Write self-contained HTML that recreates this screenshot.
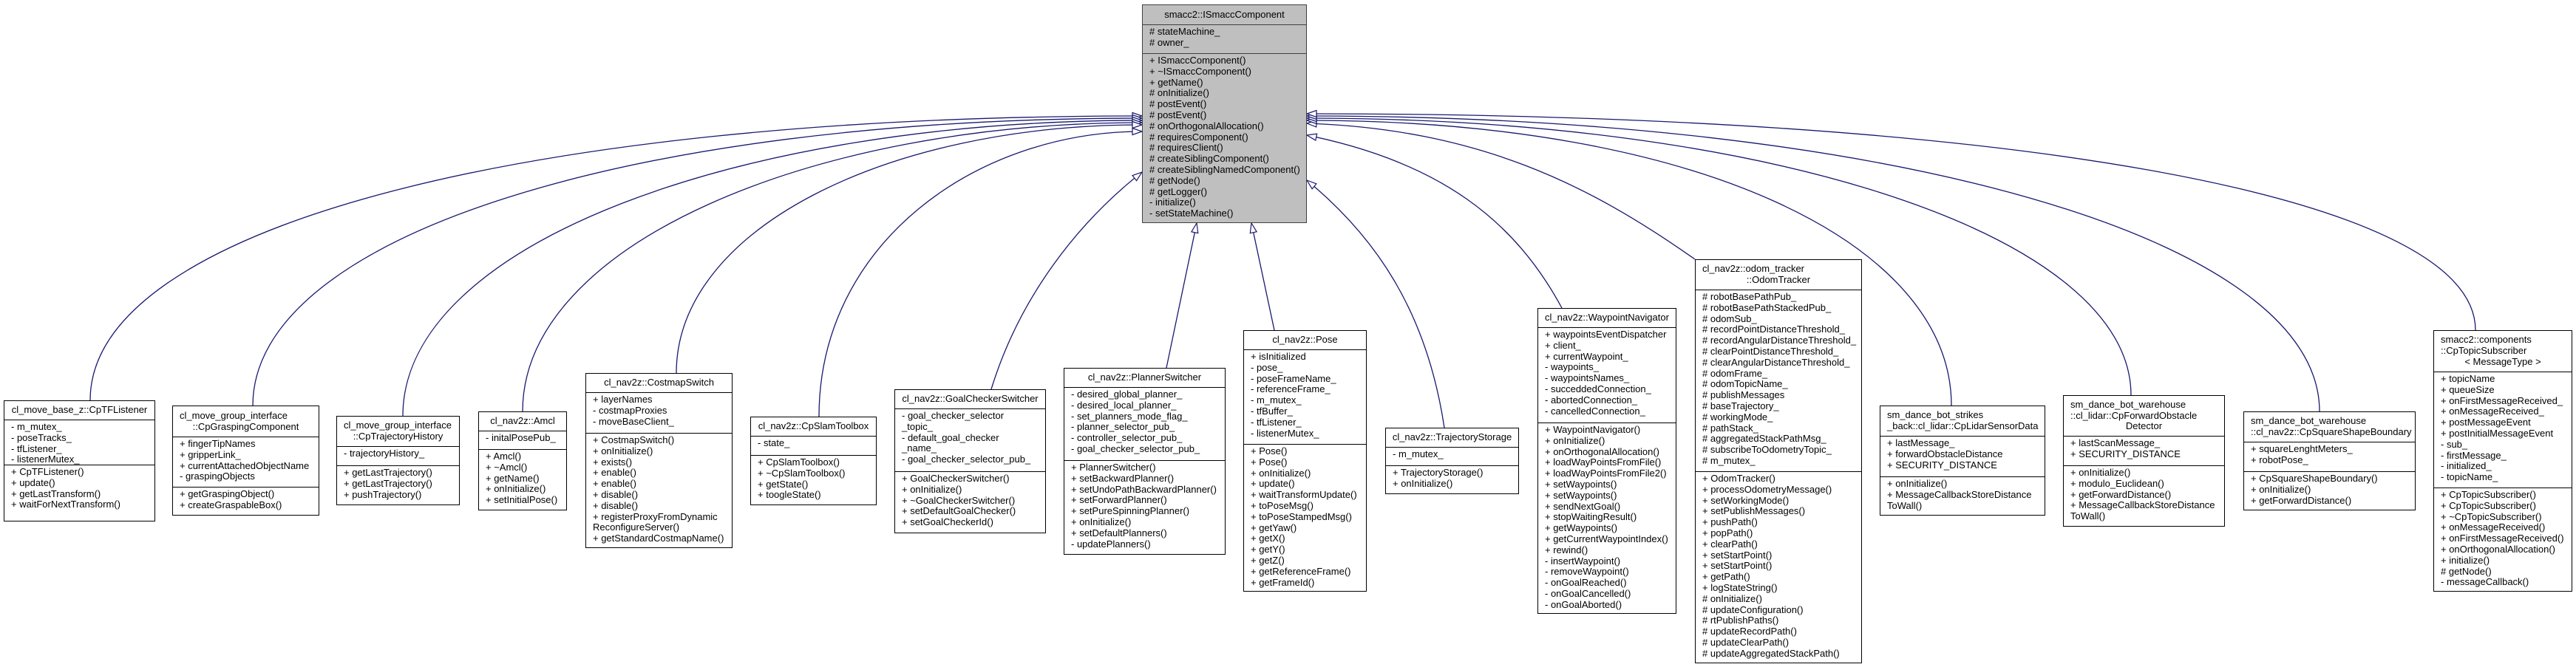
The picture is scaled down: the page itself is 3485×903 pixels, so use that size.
<!DOCTYPE html>
<html><head><meta charset="utf-8"><style>
html,body{margin:0;padding:0;background:#fff}
#w{position:relative;width:3485px;height:903px;overflow:hidden;background:#fff}
svg{position:absolute;left:0;top:0}
.b{position:absolute;border:1px solid #000;background:#fff;box-sizing:border-box;font:13px "Liberation Sans",sans-serif;color:#000;white-space:nowrap;overflow:hidden;display:flex;flex-direction:column}
.t{display:flex;flex-direction:column;justify-content:center;text-align:center;line-height:14.8px;box-sizing:border-box;flex:none}
.t .l{text-align:left;padding-left:9px}
.s{border-top:1px solid #000;padding:2px 0 0 9px;line-height:14.8px;box-sizing:border-box;flex:none}
.m{border-top:1px solid #000;padding:2px 0 0 9px;line-height:14.8px;box-sizing:border-box;flex:1}
.top{background:#bfbfbf;border-color:#404040}
.top .s,.top .m{border-color:#404040}
</style></head><body><div id="w">
<svg width="3485" height="903" viewBox="0 0 3485 903">
<defs><marker id="a" markerUnits="userSpaceOnUse" markerWidth="16" markerHeight="12" refX="14" refY="5.5" orient="auto"><path d="M1,1 L14,5.5 L1,10 z" fill="#fff" stroke="#191970" stroke-width="1.2"/></marker></defs>
<g fill="none" stroke="#191970" stroke-width="1.3" marker-end="url(#a)">
<path d="M122,542 C122,310 700,157 1545,157"/>
<path d="M342,549 C342,320 850,160 1545,160"/>
<path d="M545,563 C545,330 1000,163 1545,163"/>
<path d="M707,557 C707,330 1100,166 1545,166"/>
<path d="M915,505 C915,310 1200,169 1545,169"/>
<path d="M1108,564 C1108,330 1320,178 1545,178"/>
<path d="M1341,527 C1380,400 1460,300 1545,233"/>
<path d="M1578,498 L1619,302"/>
<path d="M1724,447 L1693,302"/>
<path d="M1954,579 C1930,420 1860,320 1768,244"/>
<path d="M2113,417 C2050,300 1950,220 1768,183"/>
<path d="M2293,351 C2150,250 2000,175 1768,167"/>
<path d="M2640,549 C2640,330 2300,163 1768,163"/>
<path d="M2883,535 C2883,320 2400,160 1768,160"/>
<path d="M3138,557 C3138,320 2550,157 1768,157"/>
<path d="M3349,447 C3349,260 2700,154 1768,154"/>
</g></svg>

<div class="b top" style="left:1545px;top:6px;width:223px;height:296px">
<div class="t" style="height:26px">smacc2::ISmaccComponent</div>
<div class="s" style="height:39px"># stateMachine_<br># owner_</div>
<div class="m">+ ISmaccComponent()<br>+ ~ISmaccComponent()<br>+ getName()<br># onInitialize()<br># postEvent()<br># postEvent()<br># onOrthogonalAllocation()<br># requiresComponent()<br># requiresClient()<br># createSiblingComponent()<br># createSiblingNamedComponent()<br># getNode()<br># getLogger()<br>- initialize()<br>- setStateMachine()</div>
</div>

<div class="b" style="left:5px;top:542px;width:205px;height:164px">
<div class="t" style="height:25px">cl_move_base_z::CpTFListener</div>
<div class="s" style="height:61px">- m_mutex_<br>- poseTracks_<br>- tfListener_<br>- listenerMutex_</div>
<div class="m">+ CpTFListener()<br>+ update()<br>+ getLastTransform()<br>+ waitForNextTransform()</div>
</div>

<div class="b" style="left:233px;top:549px;width:199px;height:149px">
<div class="t" style="height:41px"><div class="l">cl_move_group_interface</div><div>::CpGraspingComponent</div></div>
<div class="s" style="height:68px">+ fingerTipNames<br>+ gripperLink_<br>+ currentAttachedObjectName<br>- graspingObjects</div>
<div class="m">+ getGraspingObject()<br>+ createGraspableBox()</div>
</div>

<div class="b" style="left:455px;top:563px;width:167px;height:121px">
<div class="t" style="height:40px"><div class="l">cl_move_group_interface</div><div>::CpTrajectoryHistory</div></div>
<div class="s" style="height:26px">- trajectoryHistory_</div>
<div class="m">+ getLastTrajectory()<br>+ getLastTrajectory()<br>+ pushTrajectory()</div>
</div>

<div class="b" style="left:647px;top:557px;width:120px;height:134px">
<div class="t" style="height:25px">cl_nav2z::Amcl</div>
<div class="s" style="height:25px">- initalPosePub_</div>
<div class="m">+ Amcl()<br>+ ~Amcl()<br>+ getName()<br>+ onInitialize()<br>+ setInitialPose()</div>
</div>

<div class="b" style="left:792px;top:505px;width:199px;height:237px">
<div class="t" style="height:25px">cl_nav2z::CostmapSwitch</div>
<div class="s" style="height:55px">+ layerNames<br>- costmapProxies<br>- moveBaseClient_</div>
<div class="m">+ CostmapSwitch()<br>+ onInitialize()<br>+ exists()<br>+ enable()<br>+ enable()<br>+ disable()<br>+ disable()<br>+ registerProxyFromDynamic<br>ReconfigureServer()<br>+ getStandardCostmapName()</div>
</div>

<div class="b" style="left:1015px;top:564px;width:171px;height:120px">
<div class="t" style="height:25px">cl_nav2z::CpSlamToolbox</div>
<div class="s" style="height:26px">- state_</div>
<div class="m">+ CpSlamToolbox()<br>+ ~CpSlamToolbox()<br>+ getState()<br>+ toogleState()</div>
</div>

<div class="b" style="left:1210px;top:527px;width:205px;height:195px">
<div class="t" style="height:25px">cl_nav2z::GoalCheckerSwitcher</div>
<div class="s" style="height:85px">- goal_checker_selector<br>_topic_<br>- default_goal_checker<br>_name_<br>- goal_checker_selector_pub_</div>
<div class="m">+ GoalCheckerSwitcher()<br>+ onInitialize()<br>+ ~GoalCheckerSwitcher()<br>+ setDefaultGoalChecker()<br>+ setGoalCheckerId()</div>
</div>

<div class="b" style="left:1439px;top:498px;width:219px;height:253px">
<div class="t" style="height:25px">cl_nav2z::PlannerSwitcher</div>
<div class="s" style="height:99px">- desired_global_planner_<br>- desired_local_planner_<br>- set_planners_mode_flag_<br>- planner_selector_pub_<br>- controller_selector_pub_<br>- goal_checker_selector_pub_</div>
<div class="m">+ PlannerSwitcher()<br>+ setBackwardPlanner()<br>+ setUndoPathBackwardPlanner()<br>+ setForwardPlanner()<br>+ setPureSpinningPlanner()<br>+ onInitialize()<br>+ setDefaultPlanners()<br>- updatePlanners()</div>
</div>

<div class="b" style="left:1682px;top:447px;width:167px;height:354px">
<div class="t" style="height:25px">cl_nav2z::Pose</div>
<div class="s" style="height:128px">+ isInitialized<br>- pose_<br>- poseFrameName_<br>- referenceFrame_<br>- m_mutex_<br>- tfBuffer_<br>- tfListener_<br>- listenerMutex_</div>
<div class="m">+ Pose()<br>+ Pose()<br>+ onInitialize()<br>+ update()<br>+ waitTransformUpdate()<br>+ toPoseMsg()<br>+ toPoseStampedMsg()<br>+ getYaw()<br>+ getX()<br>+ getY()<br>+ getZ()<br>+ getReferenceFrame()<br>+ getFrameId()</div>
</div>

<div class="b" style="left:1874px;top:579px;width:181px;height:90px">
<div class="t" style="height:25px">cl_nav2z::TrajectoryStorage</div>
<div class="s" style="height:25px">- m_mutex_</div>
<div class="m">+ TrajectoryStorage()<br>+ onInitialize()</div>
</div>

<div class="b" style="left:2080px;top:417px;width:188px;height:414px">
<div class="t" style="height:25px">cl_nav2z::WaypointNavigator</div>
<div class="s" style="height:129px">+ waypointsEventDispatcher<br>+ client_<br>+ currentWaypoint_<br>- waypoints_<br>- waypointsNames_<br>- succeddedConnection_<br>- abortedConnection_<br>- cancelledConnection_</div>
<div class="m">+ WaypointNavigator()<br>+ onInitialize()<br>+ onOrthogonalAllocation()<br>+ loadWayPointsFromFile()<br>+ loadWayPointsFromFile2()<br>+ setWaypoints()<br>+ setWaypoints()<br>+ sendNextGoal()<br>+ stopWaitingResult()<br>+ getWaypoints()<br>+ getCurrentWaypointIndex()<br>+ rewind()<br>- insertWaypoint()<br>- removeWaypoint()<br>- onGoalReached()<br>- onGoalCancelled()<br>- onGoalAborted()</div>
</div>

<div class="b" style="left:2293px;top:351px;width:226px;height:547px">
<div class="t" style="height:40px"><div class="l">cl_nav2z::odom_tracker</div><div>::OdomTracker</div></div>
<div class="s" style="height:246px"># robotBasePathPub_<br># robotBasePathStackedPub_<br># odomSub_<br># recordPointDistanceThreshold_<br># recordAngularDistanceThreshold_<br># clearPointDistanceThreshold_<br># clearAngularDistanceThreshold_<br># odomFrame_<br># odomTopicName_<br># publishMessages<br># baseTrajectory_<br># workingMode_<br># pathStack_<br># aggregatedStackPathMsg_<br># subscribeToOdometryTopic_<br># m_mutex_</div>
<div class="m">+ OdomTracker()<br>+ processOdometryMessage()<br>+ setWorkingMode()<br>+ setPublishMessages()<br>+ pushPath()<br>+ popPath()<br>+ clearPath()<br>+ setStartPoint()<br>+ setStartPoint()<br>+ getPath()<br>+ logStateString()<br># onInitialize()<br># updateConfiguration()<br># rtPublishPaths()<br># updateRecordPath()<br># updateClearPath()<br># updateAggregatedStackPath()</div>
</div>

<div class="b" style="left:2543px;top:549px;width:224px;height:149px">
<div class="t" style="height:40px"><div class="l">sm_dance_bot_strikes</div><div class="l">_back::cl_lidar::CpLidarSensorData</div></div>
<div class="s" style="height:55px">+ lastMessage_<br>+ forwardObstacleDistance<br>+ SECURITY_DISTANCE</div>
<div class="m">+ onInitialize()<br>+ MessageCallbackStoreDistance<br>ToWall()</div>
</div>

<div class="b" style="left:2791px;top:535px;width:219px;height:178px">
<div class="t" style="height:54px"><div class="l">sm_dance_bot_warehouse</div><div class="l">::cl_lidar::CpForwardObstacle</div><div>Detector</div></div>
<div class="s" style="height:40px">+ lastScanMessage_<br>+ SECURITY_DISTANCE</div>
<div class="m">+ onInitialize()<br>+ modulo_Euclidean()<br>+ getForwardDistance()<br>+ MessageCallbackStoreDistance<br>ToWall()</div>
</div>

<div class="b" style="left:3035px;top:557px;width:233px;height:134px">
<div class="t" style="height:40px"><div class="l">sm_dance_bot_warehouse</div><div class="l">::cl_nav2z::CpSquareShapeBoundary</div></div>
<div class="s" style="height:40px">+ squareLenghtMeters_<br>+ robotPose_</div>
<div class="m">+ CpSquareShapeBoundary()<br>+ onInitialize()<br>+ getForwardDistance()</div>
</div>

<div class="b" style="left:3292px;top:447px;width:188px;height:354px">
<div class="t" style="height:55px"><div class="l">smacc2::components</div><div class="l">::CpTopicSubscriber</div><div>&lt; MessageType &gt;</div></div>
<div class="s" style="height:157px">+ topicName<br>+ queueSize<br>+ onFirstMessageReceived_<br>+ onMessageReceived_<br>+ postMessageEvent<br>+ postInitialMessageEvent<br>- sub_<br>- firstMessage_<br>- initialized_<br>- topicName_</div>
<div class="m">+ CpTopicSubscriber()<br>+ CpTopicSubscriber()<br>+ ~CpTopicSubscriber()<br>+ onMessageReceived()<br>+ onFirstMessageReceived()<br>+ onOrthogonalAllocation()<br>+ initialize()<br># getNode()<br>- messageCallback()</div>
</div>

</div></body></html>
